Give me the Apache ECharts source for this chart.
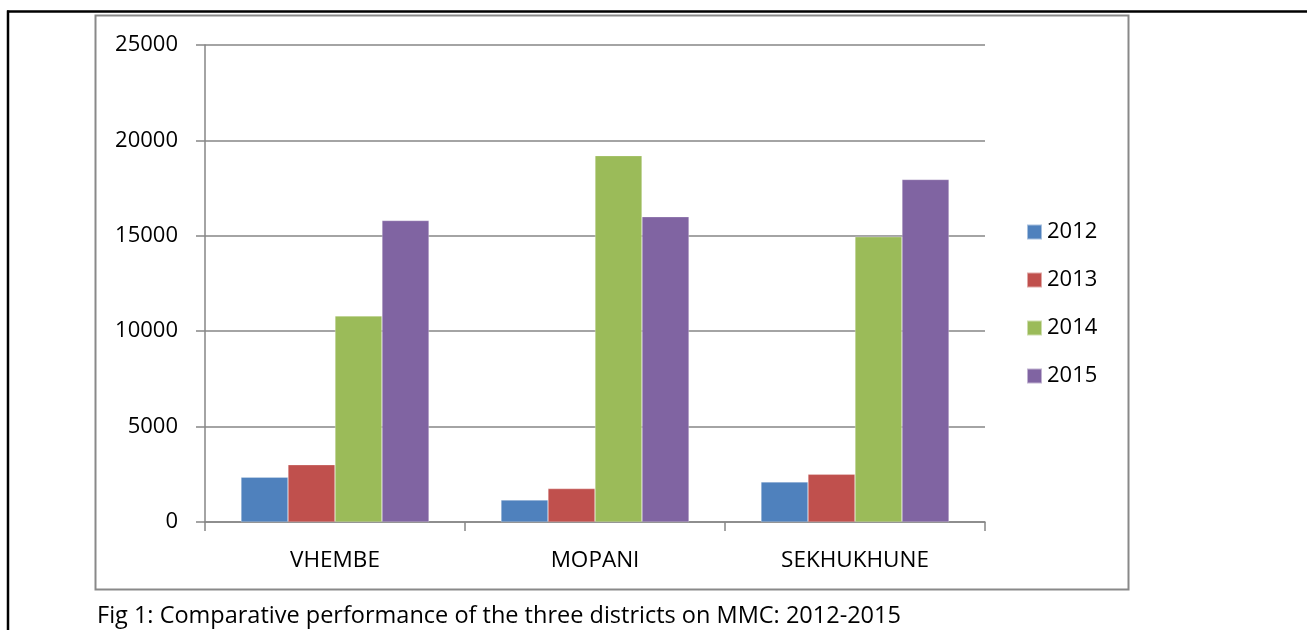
<!DOCTYPE html>
<html>
<head>
<meta charset="utf-8">
<script src="https://cdn.jsdelivr.net/npm/echarts@6/dist/echarts.min.js"></script>
<style>html,body{margin:0;padding:0;background:#fff;}#c{width:1307px;height:630px;}</style>
</head>
<body>
<div id="c"></div>
<script>
var categories = ['VHEMBE', 'MOPANI', 'SEKHUKHUNE'];
var years = ['2012', '2013', '2014', '2015'];
var values2012 = [2350, 1150, 2100];
var values2013 = [3000, 1750, 2500];
var values2014 = [10800, 19200, 14950];
var values2015 = [15800, 16000, 17950];
var yTicks = {min: 0, max: 25000, interval: 5000};
var colors = ['#4F81BD', '#C0504D', '#9BBB59', '#8064A2'];
var caption = 'Fig 1: Comparative performance of the three districts on MMC: 2012-2015';

var FONT = 'Open Sans';
var chart = echarts.init(document.getElementById('c'));
var seriesData = [values2012, values2013, values2014, values2015];
chart.setOption({
  animation: false,
  color: colors,
  grid: {left: 205, right: 322, top: 45, bottom: 108, containLabel: false},
  legend: {
    orient: 'vertical', left: 1021, top: 216,
    itemWidth: 15, itemHeight: 15, itemGap: 26, icon: 'rect',
    textStyle: {fontFamily: FONT, fontSize: 22, color: '#000', lineHeight: 22},
    data: years
  },
  xAxis: {
    type: 'category', data: categories,
    axisLine: {lineStyle: {color: '#868686', width: 1.5}},
    axisTick: {show: true, length: 9, lineStyle: {color: '#868686', width: 1.5}},
    axisLabel: {fontFamily: FONT, fontSize: 22.5, color: '#000', margin: 27}
  },
  yAxis: {
    type: 'value', min: yTicks.min, max: yTicks.max, interval: yTicks.interval,
    axisLine: {show: true, lineStyle: {color: '#868686', width: 1.5}},
    axisTick: {show: true, length: 9, lineStyle: {color: '#868686', width: 1.5}},
    axisLabel: {fontFamily: FONT, fontSize: 22, color: '#000', margin: 27,
      formatter: function (v) { return String(v); }},
    splitLine: {lineStyle: {color: '#868686', width: 1.5}}
  },
  series: years.map(function (y, i) {
    return {
      name: y, type: 'bar', data: seriesData[i],
      barGap: '0%', barCategoryGap: '27.7%',
      itemStyle: {borderColor: 'rgba(255,255,255,0.5)', borderWidth: 0.5}
    };
  }),
  graphic: [
    {type: 'line', shape: {x1: 7, y1: 11.5, x2: 1307, y2: 11.5}, style: {stroke: '#000', lineWidth: 2.5}},
    {type: 'line', shape: {x1: 8, y1: 10.5, x2: 8, y2: 630}, style: {stroke: '#000', lineWidth: 2.5}},
    {type: 'rect', shape: {x: 95.5, y: 15.5, width: 1033, height: 574}, style: {fill: 'none', stroke: '#898989', lineWidth: 2}},
    {type: 'text', left: 97, top: 604, style: {text: caption, fontFamily: FONT, fontSize: 23.5, fill: '#000'}}
  ]
});
</script>
</body>
</html>
